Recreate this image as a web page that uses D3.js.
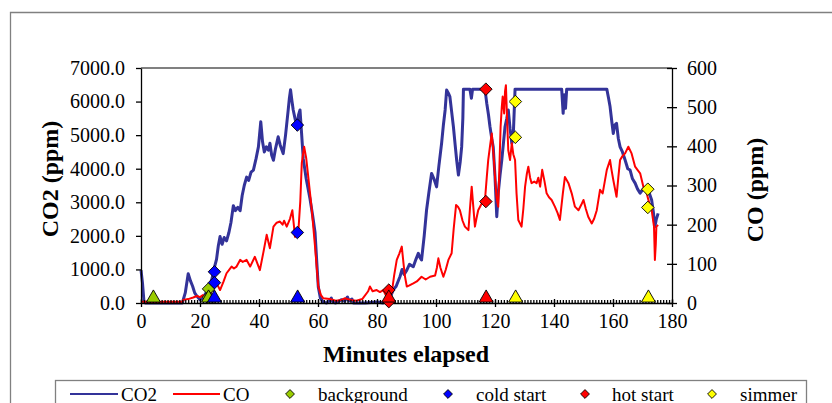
<!DOCTYPE html>
<meta charset="utf-8">
<head>
  <style>
    html, body { margin: 0; padding: 0; background: #fff; }
    svg text { font-family: "Liberation Serif", "Times New Roman", serif; fill: #000; }
  </style>
</head>
<script src="https://cdn.jsdelivr.net/npm/d3@7"></script>
<body>
<script>
  // CO2 trace (minutes, ppm) - left axis
  var co2 = [[0,980],[0.5,600],[1,50],[1.5,0],[14,0],[15,300],[16,870],[16.8,650],[17.5,500],[18.2,300],[19,200],[20,100],[21,150],[22,300],[23,450],[24,700],[25,1100],[25.6,1300],[26.2,1700],[26.8,1980],[27.5,1750],[28.2,1950],[29,1850],[29.8,2100],[30.5,2400],[31.3,2900],[32,2750],[32.8,2850],[33.6,2750],[34.3,3200],[35,3500],[35.8,3750],[36.5,3650],[37.3,3900],[38.1,3960],[39,4300],[39.8,4650],[40.6,5400],[41.2,4800],[41.8,4500],[42.5,4650],[43.2,4550],[43.7,4760],[44.3,4400],[44.9,4250],[45.6,4600],[46.5,4950],[47.2,4700],[48.2,4450],[49,5000],[49.9,5750],[50.3,6100],[50.7,6350],[51.2,6000],[51.6,5750],[52.2,5500],[52.8,5250],[53.4,5600],[53.9,5750],[54.4,5100],[55,4300],[56,3700],[57.3,3100],[58.2,2600],[59,2100],[59.6,1200],[60.1,480],[60.8,150],[61.8,20],[63,0],[64,80],[64.5,150],[65,30],[66,0],[68,100],[69,50],[70,180],[70.5,60],[71.5,120],[72,0],[76,0],[80,30],[82,0],[83.3,90],[84,60],[85.5,390],[86.5,500],[87.8,790],[88.5,1000],[89.2,850],[90.1,980],[91,1150],[92.3,1080],[93.2,1300],[94,1480],[94.6,1350],[95.1,1280],[96,2000],[96.8,2770],[97.6,3300],[98.5,3860],[99.3,3700],[100.2,3460],[101,4100],[101.9,4760],[102.5,5300],[103.1,5750],[103.6,6345],[104.2,6250],[104.7,6150],[105.3,5700],[105.9,5250],[106.5,4700],[107,4260],[107.6,3810],[108.2,4200],[108.7,4650],[109.1,5500],[109.3,6370],[111.5,6370],[112,6100],[112.4,6370],[116.6,6370],[117.2,5950],[117.8,5600],[118.3,5250],[118.9,4900],[119.4,4650],[120,3760],[120.6,2570],[121.1,3270],[121.7,3800],[122.3,4260],[122.9,4800],[123.4,5250],[124,5500],[124.5,5750],[125.1,5200],[125.7,4760],[126.2,5000],[126.8,6370],[142.6,6370],[143.1,5650],[143.5,6200],[143.9,5800],[144.3,6370],[157.9,6370],[158.5,6100],[159,5850],[159.6,5400],[160.1,5050],[160.6,5300],[161.2,5350],[161.8,4900],[162.4,4650],[163.2,4500],[164.1,4260],[165,4000],[165.8,3960],[166.6,3700],[167.5,3570],[168.3,3400],[169.2,3270],[170.3,3400],[171.4,3460],[172.2,3300],[173.1,3070],[173.7,2700],[174.2,2270],[174.7,2500],[175.3,2670]];

  // CO trace (minutes, ppm) - right axis
  var co = [[0,3],[14,3],[14.3,8],[16,10],[17.7,14],[19,18],[20,15],[21,20],[21.7,8],[23,15],[24,33],[25.1,59],[26,45],[26.8,33],[28,55],[29,76],[30.7,93],[31.5,88],[32.4,93],[33.6,110],[34.5,105],[35.8,110],[37,93],[38.6,118],[39.5,100],[40.3,84],[41.5,130],[42.6,174],[43.7,140],[44.9,195],[46,205],[47.1,208],[48,200],[48.5,210],[49.4,195],[50.5,215],[51.3,237],[51.8,200],[52.2,169],[53.3,178],[54,260],[54.5,357],[55.3,399],[56,370],[56.7,322],[57.3,280],[57.9,237],[59,144],[60.1,42],[61,20],[61.8,12],[64,10],[66,6],[68,8],[69,12],[71,8],[73,6],[75,10],[77,30],[77.6,42],[78.5,30],[79.9,33],[81,28],[82.1,33],[83,20],[84.4,25],[85,25],[85.8,70],[86.7,110],[87.5,125],[88.4,144],[89,100],[89.5,67],[90.1,42],[91,45],[92.3,50],[93.5,55],[95.1,67],[96.5,60],[98,67],[99.7,70],[100.3,90],[100.8,114],[101.5,90],[102.5,67],[103.3,85],[104.2,110],[105.3,127],[106,190],[106.8,250],[107.5,245],[108.1,237],[109,210],[109.8,195],[111,186],[111.5,240],[112.1,297],[112.6,250],[113.2,195],[113.7,215],[114.3,237],[115.5,254],[116.6,263],[117.2,320],[117.7,365],[118.3,400],[118.9,433],[119.5,380],[120,322],[120.5,270],[121.1,246],[121.5,350],[121.9,450],[122.3,500],[122.6,527],[123.1,484],[123.4,540],[123.7,556],[124.1,470],[124.5,390],[125.1,365],[125.7,408],[126.2,380],[126.8,365],[127.3,280],[127.9,212],[129,195],[129.6,240],[130.2,297],[130.8,330],[131.3,348],[131.9,320],[132.4,306],[133.3,310],[134.1,306],[134.7,320],[135.3,297],[136,340],[136.8,310],[137.5,280],[138.3,270],[139.2,263],[140.3,246],[141.2,230],[142,212],[143,280],[143.7,322],[144.9,306],[146,280],[147.1,246],[148.3,237],[149.2,250],[150,263],[150.8,240],[151.6,220],[152.8,203],[153.6,215],[154.5,237],[155.6,289],[156.5,280],[157.2,310],[157.9,340],[159,365],[159.5,340],[160.1,314],[161.2,271],[161.8,320],[162.4,365],[163.2,375],[164.1,382],[165.2,399],[166.3,382],[167.5,348],[168.3,340],[169.2,331],[170.3,297],[171.4,280],[172.3,255],[173.1,237],[173.9,195],[174.2,110],[174.5,150],[174.7,195],[175.3,199]];

  // phase markers: triangles on the time axis, diamonds at [minute, axis, value]
  var phases = ["background", "cold start", "hot start", "simmer"];
  var phaseColors = ["#99CC00", "#0000FF", "#FF0000", "#FFFF00"];
  var phaseTimes = [[4.2, 22.9], [24.9, 53.1], [84, 117], [127, 172]];
  var phasePoints = [
    [[22.9,"co2",420],[22.9,"co",15]],
    [[24.9,"co2",930],[24.9,"co",52],[53,"co2",5300],[53,"co",180]],
    [[84,"co2",40],[84,"co",33],[116.9,"co2",6370],[116.9,"co",259]],
    [[126.9,"co2",6000],[126.9,"co",423],[171.8,"co2",3390],[171.8,"co",244]]
  ];

  var co2Ticks = d3.range(0, 7001, 1000);
  var coTicks = d3.range(0, 601, 100);
  var timeTicks = d3.range(0, 181, 20);

  var serif = '"Liberation Serif", "Times New Roman", serif';
  var width = 832, height = 403;
  var svg = d3.select("body").append("svg")
    .attr("width", width)
    .attr("height", height)
    .attr("font-family", serif);

  var x = d3.scaleLinear().domain([0, 180]).range([141, 672]);
  var yL = d3.scaleLinear().domain([0, 7000]).range([303, 68]);
  var yR = d3.scaleLinear().domain([0, 600]).range([303, 68]);

  // outer frame
  svg.append("path")
    .attr("d", "M10.5,403 V12.5 H832")
    .attr("fill", "none").attr("stroke", "#808080").attr("stroke-width", 1.3);

  // plot top edge
  svg.append("line")
    .attr("x1", 141).attr("x2", 672).attr("y1", 68).attr("y2", 68)
    .attr("stroke", "#808080").attr("stroke-width", 2);

  // lines
  var lineL = d3.line().x(function(d) { return x(d[0]); }).y(function(d) { return yL(d[1]); });
  var lineR = d3.line().x(function(d) { return x(d[0]); }).y(function(d) { return yR(d[1]); });

  svg.append("path").datum(co2)
    .attr("d", lineL).attr("fill", "none")
    .attr("stroke", "#333399").attr("stroke-width", 3).attr("stroke-linejoin", "round");
  svg.append("path").datum(co)
    .attr("d", lineR).attr("fill", "none")
    .attr("stroke", "#FF0000").attr("stroke-width", 2).attr("stroke-linejoin", "round");

  // axes
  var minor = svg.append("g").attr("transform", "translate(0,303)")
    .call(d3.axisBottom(x).tickValues(d3.range(0, 181, 1)).tickSize(-3).tickSizeOuter(0).tickFormat(""));
  minor.select(".domain").remove();

  var gx = svg.append("g").attr("transform", "translate(0,303)")
    .call(d3.axisBottom(x).tickValues(timeTicks).tickSize(4).tickSizeOuter(0).tickPadding(7));
  gx.selectAll(".tick line").attr("y1", -4);

  var gl = svg.append("g").attr("transform", "translate(141,0)")
    .call(d3.axisLeft(yL).tickValues(co2Ticks).tickSize(5).tickSizeOuter(0).tickPadding(11).tickFormat(d3.format(".1f")));

  var gr = svg.append("g").attr("transform", "translate(672,0)")
    .call(d3.axisRight(yR).tickValues(coTicks).tickSize(5).tickSizeOuter(0).tickPadding(10));
  gr.selectAll(".tick line").attr("x1", -5);

  [minor, gx, gl, gr].forEach(function(g) {
    g.attr("font-family", serif).attr("font-size", 20);
  });
  svg.selectAll(".domain, .tick line").attr("stroke", "#000").attr("stroke-width", 1.3);
  svg.selectAll(".tick text").attr("fill", "#000");

  // markers
  var diamond = d3.symbol().type(d3.symbolDiamond2).size(100);
  var tri = d3.symbol().type(d3.symbolTriangle).size(85);

  phases.forEach(function(p, i) {
    svg.append("g").selectAll("path").data(phasePoints[i]).join("path")
      .attr("d", diamond)
      .attr("transform", function(d) {
        var yy = d[1] == "co2" ? yL(d[2]) : yR(d[2]);
        return "translate(" + x(d[0]) + "," + yy + ")";
      })
      .attr("fill", phaseColors[i]).attr("stroke", "#000").attr("stroke-width", 0.9);
  });
  phases.forEach(function(p, i) {
    svg.append("g").selectAll("path").data(phaseTimes[i]).join("path")
      .attr("d", tri)
      .attr("transform", function(d) { return "translate(" + x(d) + "," + 298 + ")"; })
      .attr("fill", phaseColors[i]).attr("stroke", "#000").attr("stroke-width", 0.9);
  });

  // axis titles
  svg.append("text").attr("x", 406).attr("y", 362).attr("text-anchor", "middle")
    .style("font-size", "24px").style("font-weight", "bold").text("Minutes elapsed");
  svg.append("text").attr("transform", "translate(58,179) rotate(-90)").attr("text-anchor", "middle")
    .style("font-size", "24px").style("font-weight", "bold").text("CO2 (ppm)");
  svg.append("text").attr("transform", "translate(763,190) rotate(-90)").attr("text-anchor", "middle")
    .style("font-size", "24px").style("font-weight", "bold").text("CO (ppm)");

  // legend
  svg.append("rect").attr("x", 55.5).attr("y", 380.5).attr("width", 751).attr("height", 40)
    .attr("fill", "none").attr("stroke", "#808080").attr("stroke-width", 1.3);

  var legY = 394;
  var legLines = [["CO2", "#333399", 70, 121], ["CO", "#FF0000", 173, 223]];
  legLines.forEach(function(l) {
    svg.append("line").attr("x1", l[2]).attr("x2", l[3] - 3).attr("y1", legY).attr("y2", legY)
      .attr("stroke", l[1]).attr("stroke-width", 2.2);
    svg.append("text").attr("x", l[3]).attr("y", legY + 6.5).style("font-size", "19px").text(l[0]);
  });
  var legDia = [290, 448, 585, 712];
  var legText = [318, 476, 612, 740];
  phases.forEach(function(p, i) {
    svg.append("path").attr("d", d3.symbol().type(d3.symbolDiamond2).size(50))
      .attr("transform", "translate(" + legDia[i] + "," + legY + ")")
      .attr("fill", phaseColors[i]).attr("stroke", "#000").attr("stroke-width", 0.9);
    svg.append("text").attr("x", legText[i]).attr("y", legY + 6.5).style("font-size", "19px").text(p);
  });
</script>
</body>
